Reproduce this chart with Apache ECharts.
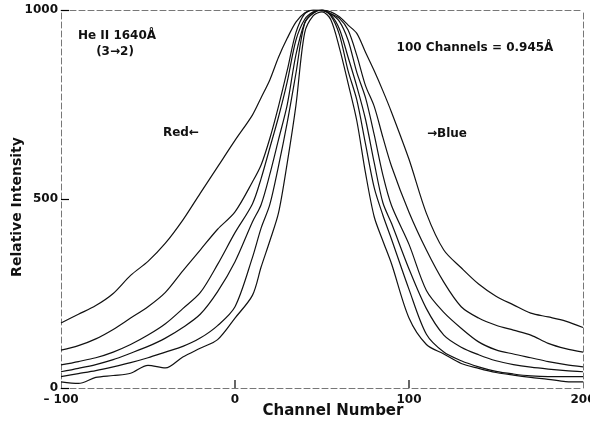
<!DOCTYPE html>
<html>
<head>
<meta charset="utf-8">
<title>He II 1640 profiles</title>
<script src="https://cdn.jsdelivr.net/npm/echarts@6/dist/echarts.min.js"></script>
<style>
  html, body { margin: 0; padding: 0; background: #fff; }
  #chart { width: 590px; height: 427px; }
</style>
</head>
<body>
<div id="chart"></div>
<script>
  // channel grid the profiles were read on
  const channels = [-100, -90, -80, -70, -60, -50, -40, -30, -20, -10, 0,
    10, 15, 20, 25, 30, 35, 40, 45, 50, 55, 60, 65, 70, 75, 80, 85, 90,
    100, 110, 120, 130, 140, 150, 160, 170, 180, 190, 200];

  // relative intensity, widest profile first
  const profile1 = [172, 195, 218, 250, 298, 335, 383, 444, 515, 585, 655,
    722, 768, 815, 875, 925, 968, 992, 1000, 1000, 995, 982, 960, 938, 888, 839, 786, 729,
    605, 462, 365, 318, 275, 243, 220, 198, 188, 177, 160];
  const profile2 = [100, 112, 130, 155, 185, 215, 253, 310, 365, 420, 466,
    545, 590, 660, 745, 840, 940, 990, 1000, 998, 990, 978, 947, 880, 800, 745, 663, 586,
    465, 365, 280, 215, 185, 166, 153, 140, 118, 104, 95];
  const profile3 = [61, 70, 80, 95, 115, 140, 170, 210, 252, 327, 411,
    487, 554, 635, 717, 810, 920, 975, 995, 1000, 990, 970, 920, 835, 768, 670, 563, 482,
    380, 258, 200, 158, 122, 101, 90, 80, 70, 62, 56];
  const profile4 = [43, 52, 62, 75, 92, 110, 132, 160, 195, 255, 334,
    439, 485, 565, 657, 749, 881, 965, 992, 1000, 988, 950, 875, 798, 711, 596, 490, 435,
    315, 210, 140, 108, 88, 72, 62, 55, 50, 46, 43];
  const profile5 = [30, 38, 46, 56, 67, 80, 95, 110, 132, 165, 215,
    345, 423, 485, 587, 702, 832, 965, 992, 1000, 985, 935, 839, 762, 646, 530, 457, 393,
    261, 142, 95, 72, 56, 44, 37, 32, 30, 30, 30];
  const profile6 = [16, 12, 28, 33, 39, 60, 53, 82, 105, 128, 185,
    245, 320, 389, 463, 595, 747, 939, 985, 995, 975, 900, 806, 707, 569, 453, 389, 328,
    185, 115, 90, 65, 52, 41, 34, 28, 23, 17, 16];

  const profiles = [profile1, profile2, profile3, profile4, profile5, profile6];

  const xTicks = [-100, 0, 100, 200];
  const yTicks = [0, 500, 1000];

  const font = 'DejaVu Sans';
  const ink = '#111';
  const frame = { color: '#777', width: 1, type: [6, 3] };

  const chart = echarts.init(document.getElementById('chart'));

  const series = profiles.map((p, i) => ({
    name: 'profile' + (i + 1),
    type: 'line',
    xAxisIndex: 0,
    yAxisIndex: 0,
    data: channels.map((c, k) => [c, p[k]]),
    smooth: 0.3,
    showSymbol: false,
    lineStyle: { color: ink, width: 1.2 },
    silent: true
  }));

  // short inward tick marks on the channel axis (inner ticks only)
  series.push({
    type: 'custom',
    silent: true,
    clip: false,
    data: xTicks.slice(1, -1).map(v => [v, yTicks[0]]),
    encode: { x: 0, y: 1 },
    renderItem: (params, api) => {
      const p = api.coord([api.value(0), api.value(1)]);
      return {
        type: 'line',
        shape: { x1: p[0], y1: p[1], x2: p[0], y2: p[1] - 8 },
        style: { stroke: '#000', lineWidth: 1.2 }
      };
    }
  });

  const option = {
    backgroundColor: '#fff',
    animation: false,
    grid: { left: 61, right: 7, top: 10, bottom: 39, outerBoundsMode: 'none', containLabel: false },
    xAxis: [
      {
        type: 'value', min: xTicks[0], max: xTicks[xTicks.length - 1], interval: 100,
        name: 'Channel Number', nameLocation: 'middle', nameGap: 16, nameMoveOverlap: false,
        nameTextStyle: { fontFamily: font, fontWeight: 'bold', fontSize: 15, color: ink, padding: [0, 0, 0, 22] },
        axisLine: { show: true, onZero: false, lineStyle: frame },
        axisTick: { show: false },
        axisLabel: {
          margin: 6, fontFamily: font, fontWeight: 'bold', fontSize: 12, color: ink,
          formatter: v => (v < 0 ? '\u2013 ' + Math.abs(v) : String(v))
        },
        splitLine: { show: false }
      },
      {
        type: 'value', position: 'top', min: xTicks[0], max: xTicks[xTicks.length - 1],
        axisLine: { show: true, onZero: false, lineStyle: frame },
        axisTick: { show: false }, axisLabel: { show: false }, splitLine: { show: false }
      }
    ],
    yAxis: [
      {
        type: 'value', min: yTicks[0], max: yTicks[yTicks.length - 1], interval: 500,
        name: 'Relative Intensity', nameLocation: 'middle', nameGap: 37, nameMoveOverlap: false,
        nameTextStyle: { fontFamily: font, fontWeight: 'bold', fontSize: 14, color: ink, padding: [0, 16, 0, 0] },
        axisLine: { show: true, onZero: false, lineStyle: frame },
        axisTick: { show: true, inside: true, length: 8, lineStyle: { color: '#000', width: 1.2 } },
        axisLabel: { margin: 3, fontFamily: font, fontWeight: 'bold', fontSize: 12, color: ink, formatter: v => String(v) },
        splitLine: { show: false }
      },
      {
        type: 'value', position: 'right', min: yTicks[0], max: yTicks[yTicks.length - 1],
        axisLine: { show: true, onZero: false, lineStyle: frame },
        axisTick: { show: false }, axisLabel: { show: false }, splitLine: { show: false }
      }
    ],
    graphic: [
      { type: 'text', x: 117, y: 36, style: { text: 'He II 1640Å', font: 'bold 12px "DejaVu Sans"', fill: ink, textAlign: 'center', textVerticalAlign: 'middle' } },
      { type: 'text', x: 115, y: 52, style: { text: '(3→2)', font: 'bold 12px "DejaVu Sans"', fill: ink, textAlign: 'center', textVerticalAlign: 'middle' } },
      { type: 'text', x: 475, y: 48, style: { text: '100 Channels = 0.945Å', font: 'bold 12px "DejaVu Sans"', fill: ink, textAlign: 'center', textVerticalAlign: 'middle' } },
      { type: 'text', x: 181, y: 133, style: { text: 'Red←', font: 'bold 12px "DejaVu Sans"', fill: ink, textAlign: 'center', textVerticalAlign: 'middle' } },
      { type: 'text', x: 447, y: 134, style: { text: '→Blue', font: 'bold 12px "DejaVu Sans"', fill: ink, textAlign: 'center', textVerticalAlign: 'middle' } }
    ],
    series: series
  };

  chart.setOption(option);
</script>
</body>
</html>
